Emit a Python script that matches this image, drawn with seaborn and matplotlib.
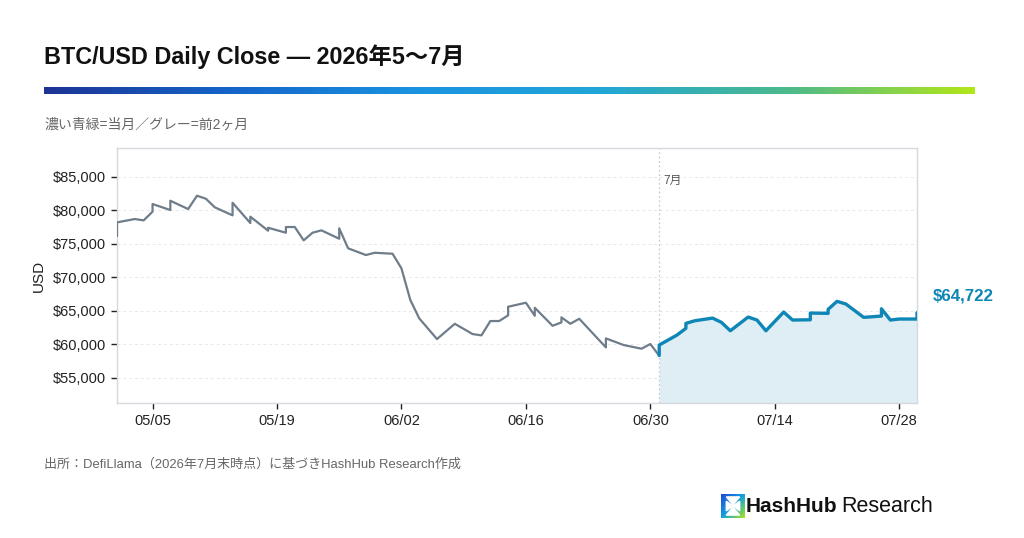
import numpy as np
import pandas as pd
import seaborn as sns
import matplotlib.pyplot as plt
import matplotlib.dates as mdates
from matplotlib.colors import LinearSegmentedColormap
from matplotlib.ticker import FuncFormatter

# previous two months (May-June), duplicate dates = intraday jumps
prev_dates = [
    "2026-05-01", "2026-05-01", "2026-05-03", "2026-05-04", "2026-05-05", "2026-05-05",
    "2026-05-07", "2026-05-07", "2026-05-09", "2026-05-10", "2026-05-11", "2026-05-12",
    "2026-05-14", "2026-05-14", "2026-05-16", "2026-05-16", "2026-05-18", "2026-05-18",
    "2026-05-20", "2026-05-20", "2026-05-21", "2026-05-22", "2026-05-23", "2026-05-24",
    "2026-05-26", "2026-05-26", "2026-05-27", "2026-05-29", "2026-05-30", "2026-06-01",
    "2026-06-02", "2026-06-03", "2026-06-04", "2026-06-06", "2026-06-08", "2026-06-10",
    "2026-06-11", "2026-06-12", "2026-06-13", "2026-06-14", "2026-06-14", "2026-06-16",
    "2026-06-17", "2026-06-17", "2026-06-19", "2026-06-20", "2026-06-20", "2026-06-21",
    "2026-06-22", "2026-06-25", "2026-06-25", "2026-06-27", "2026-06-29", "2026-06-30",
    "2026-07-01",
]
prev_close = [
    76160, 78200, 78700, 78500, 79800, 80940,
    80040, 81430, 80190, 82180, 81730, 80450,
    79250, 81130, 78100, 79050, 76960, 77400,
    76660, 77510, 77510, 75520, 76660, 77010,
    75760, 77310, 74330, 73330, 73670, 73520,
    71340, 66610, 63880, 60790, 63070, 61540,
    61340, 63480, 63480, 64330, 65610, 66210,
    64270, 65460, 62770, 63280, 64030, 63070,
    63820, 59550, 60890, 59900, 59350, 60050,
    58300,
]

# current month (July)
cur_dates = [
    "2026-07-01", "2026-07-01", "2026-07-03", "2026-07-04", "2026-07-04", "2026-07-05",
    "2026-07-07", "2026-07-08", "2026-07-09", "2026-07-11", "2026-07-12", "2026-07-13",
    "2026-07-15", "2026-07-16", "2026-07-18", "2026-07-18", "2026-07-20", "2026-07-20",
    "2026-07-21", "2026-07-22", "2026-07-24", "2026-07-26", "2026-07-26", "2026-07-27",
    "2026-07-28", "2026-07-30", "2026-07-30",
]
cur_close = [
    58350, 59900, 61390, 62390, 63130, 63520,
    63920, 63280, 62030, 64070, 63630, 62030,
    64820, 63630, 63670, 64670, 64630, 65220,
    66420, 66020, 64030, 64220, 65310, 63630,
    63780, 63780, 64722,
]

y_ticks = [55000, 60000, 65000, 70000, 75000, 80000, 85000]
x_ticks = ["2026-05-05", "2026-05-19", "2026-06-02", "2026-06-16",
           "2026-06-30", "2026-07-14", "2026-07-28"]

GRAY = "#6f7c8a"
BLUE = "#0e86b6"
FILL = "#dfedf5"

sns.set_style("white")
plt.rcParams["font.family"] = ["Liberation Sans", "Noto Sans CJK JP", "DejaVu Sans"]

prev = pd.DataFrame({"date": pd.to_datetime(prev_dates), "close": prev_close})
cur = pd.DataFrame({"date": pd.to_datetime(cur_dates), "close": cur_close})

fig = plt.figure(figsize=(10.24, 5.38), dpi=100)
ax = fig.add_axes([117 / 1024, 1 - 403 / 538, 800 / 1024, 255 / 538])

ymin, ymax = 51250, 89300
ax.fill_between(cur["date"], cur["close"], ymin, color=FILL, lw=0, zorder=1)
sns.lineplot(data=prev, x="date", y="close", ax=ax, color=GRAY, lw=1.6,
             estimator=None, sort=False, zorder=3)
sns.lineplot(data=cur, x="date", y="close", ax=ax, color=BLUE, lw=2.4,
             estimator=None, sort=False, zorder=4)

month_start = pd.Timestamp("2026-07-01")
ax.axvline(month_start, color="#c5ccd3", lw=0.9, ls=(0, (1.5, 2)), zorder=2)
ax.text(month_start + pd.Timedelta(hours=10), 84400, "7月", fontsize=8.5,
        color="#555555", ha="left", va="center")

ax.set_xlim(pd.Timestamp("2026-05-01"), pd.Timestamp("2026-07-30"))
ax.set_ylim(ymin, ymax)
ax.set_yticks(y_ticks)
ax.yaxis.set_major_formatter(FuncFormatter(lambda v, p: f"${v:,.0f}"))
ax.set_xticks(pd.to_datetime(x_ticks))
ax.xaxis.set_major_formatter(mdates.DateFormatter("%m/%d"))
ax.tick_params(axis="both", labelsize=10.5, colors="#222222", length=4, width=1,
               direction="out", pad=4)
ax.tick_params(axis="both", which="both", left=True, bottom=True)
ax.grid(axis="y", color="#e6e9ec", ls=(0, (3, 3)), lw=0.7)
ax.set_axisbelow(True)
for s in ax.spines.values():
    s.set_color("#d5d9dd")
    s.set_linewidth(1.0)
ax.set_xlabel("")
ax.set_ylabel("USD", fontsize=11, color="#222222", labelpad=5)

# last value label
ax.annotate(f"${cur_close[-1]:,}", xy=(1.0, cur_close[-1]),
            xycoords=("axes fraction", "data"), xytext=(11, 12),
            textcoords="offset points", color=BLUE, fontsize=12.2,
            fontweight="bold", ha="left", va="center", annotation_clip=False)

# title, gradient rule, subtitle
fig.text(44 / 1024, 1 - 57 / 538, "BTC/USD Daily Close — 2026年5〜7月",
         fontsize=16.8, fontweight="bold", color="#111111", va="center")
bar_cmap = LinearSegmentedColormap.from_list(
    "rule", ["#1c3494", "#1565c9", "#1a93e0", "#22a6d6", "#4db98c", "#b2e619"])
bar_ax = fig.add_axes([44 / 1024, 1 - 94 / 538, 931 / 1024, 7 / 538])
bar_ax.imshow(np.linspace(0, 1, 512)[None, :], aspect="auto", cmap=bar_cmap)
bar_ax.axis("off")
fig.text(44 / 1024, 1 - 125 / 538, "濃い青緑=当月／グレー=前2ヶ月",
         fontsize=10, color="#666666", va="center")

fig.text(44 / 1024, 1 - 465 / 538,
         "出所：DefiLlama（2026年7月末時点）に基づきHashHub Research作成",
         fontsize=9.4, color="#666666", va="center")

# logo
logo_ax = fig.add_axes([721 / 1024, 1 - 518 / 538, 24 / 1024, 24 / 538])
logo_cmap = LinearSegmentedColormap.from_list("logo", ["#1f45d6", "#14a0e0", "#a8e619"])
gx, gy = np.meshgrid(np.linspace(0, 1, 50), np.linspace(0, 1, 50))
logo_ax.imshow((gx * 0.5 + gy * 0.5), cmap=logo_cmap, extent=(0, 1, 0, 1), origin="upper")
logo_ax.fill([0.22, 0.78, 0.5], [0.88, 0.88, 0.55], color="white")
logo_ax.fill([0.22, 0.78, 0.5], [0.12, 0.12, 0.45], color="white")
logo_ax.fill([0.22, 0.5, 0.22], [0.3, 0.5, 0.7], color="white")
logo_ax.fill([0.78, 0.5, 0.78], [0.3, 0.5, 0.7], color="white")
logo_ax.set_xlim(0, 1)
logo_ax.set_ylim(0, 1)
logo_ax.axis("off")
fig.text(746 / 1024, 1 - 507 / 538, "HashHub", fontsize=15, fontweight="bold",
         color="#111111", va="center")
fig.text(933 / 1024, 1 - 507 / 538, "Research", fontsize=15.5,
         color="#111111", va="center", ha="right")

fig.savefig("out.png", dpi=100, facecolor="white")
